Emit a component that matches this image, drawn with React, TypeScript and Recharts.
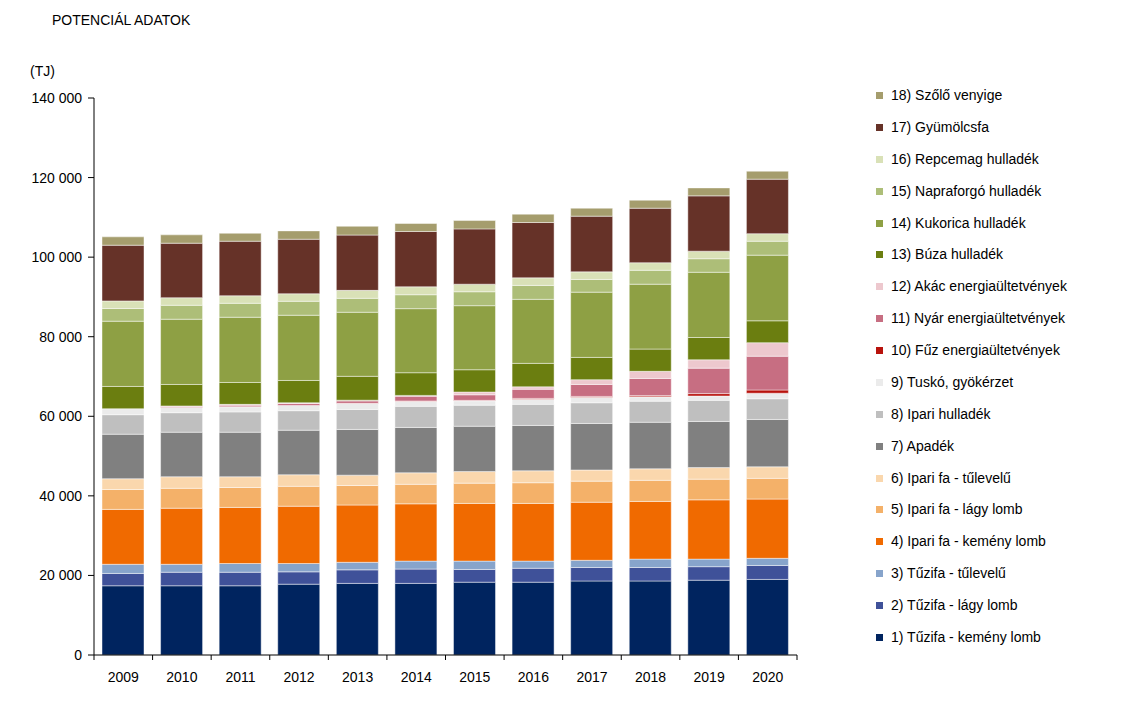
import React from 'react';
import { BarChart, Bar, XAxis, YAxis } from 'recharts';

const years = ['2009', '2010', '2011', '2012', '2013', '2014', '2015', '2016', '2017', '2018', '2019', '2020'];

// TJ values per source, 2009..2020
const tuzifaKemeny = [17400, 17400, 17400, 17800, 18000, 18000, 18300, 18300, 18600, 18600, 18800, 19000];
const tuzifaLagy = [3100, 3400, 3400, 3100, 3400, 3600, 3200, 3500, 3400, 3400, 3400, 3500];
const tuzifaTuleveluu = [2300, 2000, 2200, 2100, 1900, 2000, 2100, 1800, 1800, 2100, 1900, 1800];
const ipariKemeny = [13800, 14100, 14100, 14400, 14400, 14400, 14500, 14500, 14600, 14500, 14900, 14900];
const ipariLagy = [5000, 5000, 5000, 5000, 4900, 4900, 5100, 5200, 5300, 5300, 5200, 5200];
const ipariTuleveluu = [2700, 2900, 2700, 2900, 2600, 2900, 2900, 3000, 2800, 2900, 2900, 2900];
const apadek = [11200, 11200, 11200, 11200, 11500, 11400, 11400, 11400, 11700, 11700, 11600, 11900];
const ipariHulladek = [4900, 4900, 5100, 4900, 5000, 5300, 5300, 5300, 5200, 5300, 5300, 5200];
const tusko = [1500, 1300, 1300, 1300, 1500, 1300, 1100, 1300, 1400, 1100, 1100, 1400];
const fuz = [0, 0, 0, 0, 50, 50, 100, 200, 200, 300, 600, 800];
const nyar = [0, 300, 400, 500, 600, 1200, 1400, 2300, 3000, 4300, 6400, 8500];
const akac = [0, 100, 200, 200, 200, 200, 700, 600, 1200, 1800, 2100, 3400];
const buza = [5600, 5400, 5500, 5600, 6000, 5700, 5600, 5900, 5600, 5600, 5600, 5500];
const kukorica = [16400, 16400, 16400, 16400, 16100, 16100, 16100, 16100, 16400, 16300, 16400, 16500];
const napraforgo = [3200, 3500, 3500, 3500, 3500, 3500, 3500, 3500, 3200, 3500, 3400, 3500];
const repcemag = [1900, 1900, 1900, 1900, 2000, 2000, 1900, 1900, 1900, 1900, 1900, 1900];
const gyumolcsfa = [14000, 13700, 13700, 13700, 13900, 13900, 13900, 13900, 14000, 13700, 13900, 13700];
const szolo = [2100, 2100, 2000, 2100, 2200, 2000, 2100, 2100, 2000, 2000, 2000, 2000];

const yTicks = [0, 20000, 40000, 60000, 80000, 100000, 120000, 140000];

const series = [
  { key: 's1', name: '1) Tűzifa - kemény lomb', values: tuzifaKemeny, color: '#00245F' },
  { key: 's2', name: '2) Tűzifa - lágy lomb', values: tuzifaLagy, color: '#3F5199' },
  { key: 's3', name: '3) Tűzifa - tűlevelű', values: tuzifaTuleveluu, color: '#87A4CB' },
  { key: 's4', name: '4) Ipari fa - kemény lomb', values: ipariKemeny, color: '#F06A00' },
  { key: 's5', name: '5) Ipari fa - lágy lomb', values: ipariLagy, color: '#F4B169' },
  { key: 's6', name: '6) Ipari fa - tűlevelű', values: ipariTuleveluu, color: '#FAD7AD' },
  { key: 's7', name: '7) Apadék', values: apadek, color: '#808080' },
  { key: 's8', name: '8) Ipari hulladék', values: ipariHulladek, color: '#BFBFBF' },
  { key: 's9', name: '9) Tuskó, gyökérzet', values: tusko, color: '#EBEBEB' },
  { key: 's10', name: '10) Fűz energiaültetvények', values: fuz, color: '#B8120C' },
  { key: 's11', name: '11) Nyár energiaültetvények', values: nyar, color: '#C76E82' },
  { key: 's12', name: '12) Akác energiaültetvények', values: akac, color: '#EDC8CE' },
  { key: 's13', name: '13) Búza hulladék', values: buza, color: '#6B7E10' },
  { key: 's14', name: '14) Kukorica hulladék', values: kukorica, color: '#8EA044' },
  { key: 's15', name: '15) Napraforgó hulladék', values: napraforgo, color: '#ADBE78' },
  { key: 's16', name: '16) Repcemag hulladék', values: repcemag, color: '#D9E1B7' },
  { key: 's17', name: '17) Gyümölcsfa', values: gyumolcsfa, color: '#663228' },
  { key: 's18', name: '18) Szőlő venyige', values: szolo, color: '#A59D6D' },
];

const data = years.map((year, i) => {
  const row: Record<string, string | number> = { year };
  series.forEach((s) => {
    row[s.key] = s.values[i];
  });
  return row;
});

const FONT = '"Liberation Sans", Arial, sans-serif';
const W = 1130;
const H = 701;
const PLOT_LEFT = 94;
const PLOT_RIGHT = 797;
const catW = (PLOT_RIGHT - PLOT_LEFT) / years.length;

const fmt = (v: number) => String(v).replace(/\B(?=(\d{3})+(?!\d))/g, ' ');

function YearTick(props: any) {
  const { x, y, payload, index } = props;
  return (
    <g>
      <line x1={x - catW / 2} y1={y} x2={x - catW / 2} y2={y + 5} stroke="#000" />
      {index === years.length - 1 && (
        <line x1={x + catW / 2} y1={y} x2={x + catW / 2} y2={y + 5} stroke="#000" />
      )}
      <text x={x} y={y + 27} textAnchor="middle" fontSize={14} fontFamily={FONT} fill="#000">
        {payload.value}
      </text>
    </g>
  );
}

export default function App() {
  return (
    <div style={{ position: 'absolute', left: 0, top: 0, width: W, height: H, background: '#fff', fontFamily: FONT }}>
      <div style={{ position: 'absolute', left: 52, top: 12, fontSize: 14, color: '#000' }}>POTENCIÁL ADATOK</div>
      <div style={{ position: 'absolute', left: 30, top: 63, fontSize: 14, color: '#000' }}>(TJ)</div>
      <BarChart
        width={W}
        height={H}
        data={data}
        barSize={42}
        margin={{ top: 98, right: W - PLOT_RIGHT, left: 34, bottom: 16 }}
      >
        <XAxis
          dataKey="year"
          height={30}
          tickLine={false}
          tickSize={0}
          tickMargin={0}
          axisLine={{ stroke: '#000' }}
          tick={<YearTick />}
          interval={0}
        />
        <YAxis
          width={60}
          domain={[0, 140000]}
          ticks={yTicks}
          tickFormatter={fmt}
          tickSize={6}
          tickMargin={6}
          axisLine={{ stroke: '#000' }}
          tickLine={{ stroke: '#000' }}
          tick={{ fontSize: 14, fontFamily: FONT, fill: '#000' }}
          interval={0}
        />
        {series.map((s) => (
          <Bar
            key={s.key}
            dataKey={s.key}
            name={s.name}
            stackId="a"
            fill={s.color}
            stroke="rgba(255,255,255,0.45)"
            strokeWidth={1}
            isAnimationActive={false}
          />
        ))}
      </BarChart>
      <div style={{ position: 'absolute', left: 876, top: 87 }}>
        {[...series].reverse().map((s) => (
          <div key={s.key} style={{ height: 31.88, display: 'flex', alignItems: 'flex-start', fontSize: 14, color: '#000' }}>
            <span style={{ display: 'inline-block', width: 7, height: 7, background: s.color, marginTop: 5, marginRight: 8 }} />
            <span style={{ lineHeight: '16px', whiteSpace: 'nowrap' }}>{s.name}</span>
          </div>
        ))}
      </div>
    </div>
  );
}
